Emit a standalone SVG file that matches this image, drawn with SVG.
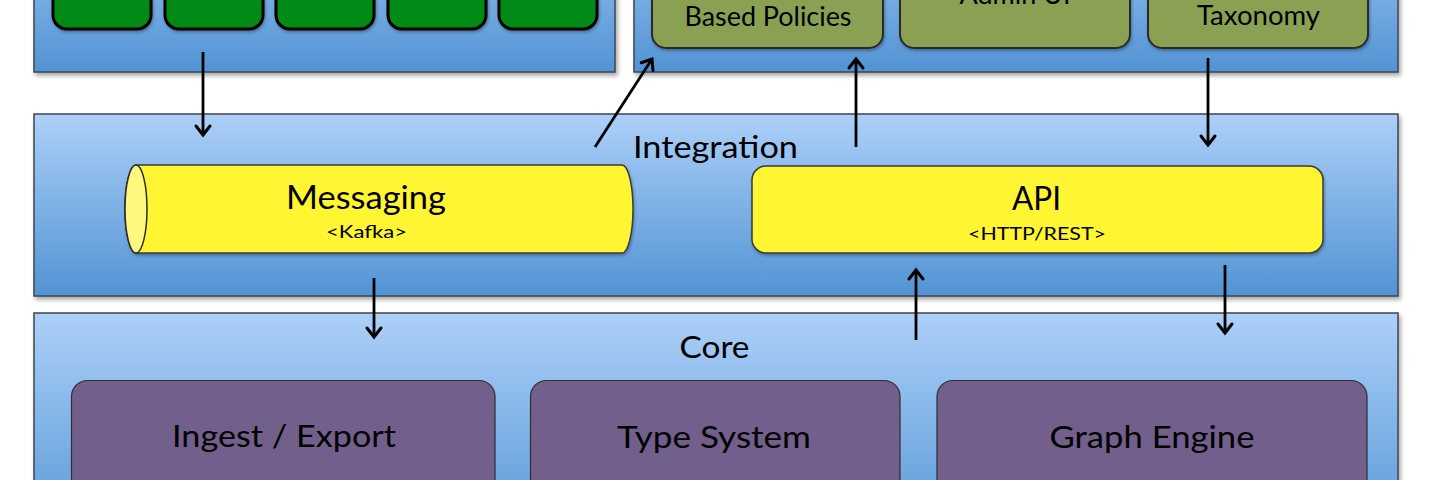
<svg xmlns="http://www.w3.org/2000/svg" width="1432" height="480" viewBox="0 0 1432 480">
  <defs>
    <linearGradient id="blueGrad" x1="0" y1="0" x2="0" y2="1">
      <stop offset="0" stop-color="#acd0f8"/>
      <stop offset="1" stop-color="#5293d4"/>
    </linearGradient>
    <filter id="shadow" x="-5%" y="-10%" width="110%" height="130%">
      <feDropShadow dx="2" dy="3" stdDeviation="2" flood-color="#000" flood-opacity="0.35"/>
    </filter>
    <filter id="shadowSm" x="-5%" y="-10%" width="110%" height="130%">
      <feDropShadow dx="1" dy="2" stdDeviation="1.5" flood-color="#000" flood-opacity="0.3"/>
    </filter>
    <marker id="arrow" markerUnits="userSpaceOnUse" markerWidth="20" markerHeight="20" viewBox="0 0 20 20" refX="12" refY="10" orient="auto">
      <path d="M3,3 L12,10 L3,17" fill="none" stroke="#000" stroke-width="3" stroke-linecap="round" stroke-linejoin="miter"/>
    </marker>
  </defs>
  <style>
    .container { fill: url(#blueGrad); stroke: #3c4650; stroke-width: 1.5; filter: url(#shadow); }
    .green { fill: #008a18; stroke: #000; stroke-width: 3; filter: url(#shadowSm); }
    .olive { fill: #8aa052; stroke: #2b2b2b; stroke-width: 2; filter: url(#shadowSm); }
    .yellow { fill: #fff533; stroke: #3a3a3a; stroke-width: 1.5; filter: url(#shadowSm); }
    .purple { fill: #735f8b; stroke: #2e2e2e; stroke-width: 1.2; }
    .conn { stroke: #000; stroke-width: 2.8; fill: none; marker-end: url(#arrow); }
    text { font-family: Lato, "Open Sans", "Liberation Sans", sans-serif; fill: #000; text-anchor: middle; }
    .big { font-size: 31px; }
    .mid { font-size: 32px; }
    .olv { font-size: 26px; }
    .small { font-size: 18px; }
  </style>

  <!-- Top-left container with green boxes -->
  <g id="sources">
    <rect class="container" x="34" y="-110" width="581" height="182"/>
    <rect id="src1" class="green" x="53" y="-60" width="98" height="89" rx="14"/>
    <rect id="src2" class="green" x="165" y="-60" width="98" height="89" rx="14"/>
    <rect id="src3" class="green" x="276" y="-60" width="98" height="89" rx="14"/>
    <rect id="src4" class="green" x="388" y="-60" width="98" height="89" rx="14"/>
    <rect id="src5" class="green" x="499" y="-60" width="98" height="89" rx="14"/>
  </g>

  <!-- Top-right container with olive boxes -->
  <g id="apps">
    <rect class="container" x="634" y="-110" width="764" height="182"/>
    <g id="policies">
      <rect class="olive" x="652" y="-60" width="231" height="108" rx="14"/>
      <text class="olv" x="768" y="26" textLength="167" lengthAdjust="spacingAndGlyphs">Based Policies</text>
    </g>
    <g id="adminui">
      <rect class="olive" x="900" y="-60" width="230" height="108" rx="14"/>
      <text class="olv" x="1015" y="4" textLength="111" lengthAdjust="spacingAndGlyphs">Admin UI</text>
    </g>
    <g id="taxonomy">
      <rect class="olive" x="1148" y="-60" width="220" height="108" rx="14"/>
      <text class="olv" x="1258.5" y="25" textLength="123" lengthAdjust="spacingAndGlyphs">Taxonomy</text>
    </g>
  </g>

  <!-- Integration -->
  <g id="integration">
    <rect class="container" x="34" y="114" width="1364" height="182"/>
    <text class="big" x="715.5" y="158" textLength="165" lengthAdjust="spacingAndGlyphs">Integration</text>
    <g id="messaging">
      <path class="yellow" d="M136,165 L622,165 A11,44 0 0 1 622,253 L136,253 A11,44 0 0 1 136,165 Z"/>
      <ellipse cx="136" cy="209" rx="11" ry="44" fill="#fff87e" stroke="#2a2a2a" stroke-width="1.5"/>
      <text class="mid" x="366" y="209" textLength="160" lengthAdjust="spacingAndGlyphs">Messaging</text>
      <text class="small" x="366.5" y="238" textLength="81" lengthAdjust="spacingAndGlyphs">&lt;Kafka&gt;</text>
    </g>
    <g id="api">
      <rect class="yellow" x="752" y="166" width="571" height="87" rx="14"/>
      <text class="mid" x="1036.5" y="210" textLength="49" lengthAdjust="spacingAndGlyphs">API</text>
      <text class="small" x="1037" y="240" textLength="138" lengthAdjust="spacingAndGlyphs">&lt;HTTP/REST&gt;</text>
    </g>
  </g>

  <!-- Core -->
  <g id="core">
    <rect class="container" x="34" y="313" width="1364" height="240"/>
    <text class="big" x="714.5" y="358" textLength="70" lengthAdjust="spacingAndGlyphs">Core</text>
    <g id="ingest">
      <rect class="purple" x="71.5" y="380.5" width="423.5" height="130" rx="16"/>
      <text class="big" x="284" y="447" textLength="224" lengthAdjust="spacingAndGlyphs">Ingest / Export</text>
    </g>
    <g id="typesystem">
      <rect class="purple" x="530.5" y="380.5" width="369.5" height="130" rx="16"/>
      <text class="big" x="714" y="448" textLength="194" lengthAdjust="spacingAndGlyphs">Type System</text>
    </g>
    <g id="graphengine">
      <rect class="purple" x="937" y="380.5" width="430" height="130" rx="16"/>
      <text class="big" x="1152" y="448" textLength="205" lengthAdjust="spacingAndGlyphs">Graph Engine</text>
    </g>
  </g>

  <!-- Connectors -->
  <g id="connectors">
    <line class="conn" x1="203" y1="52" x2="203" y2="135"/>
    <line class="conn" x1="595" y1="147" x2="652" y2="59"/>
    <line class="conn" x1="856" y1="147" x2="856" y2="59"/>
    <line class="conn" x1="1208" y1="58" x2="1208" y2="145"/>
    <line class="conn" x1="374" y1="278" x2="374" y2="337"/>
    <line class="conn" x1="916" y1="340" x2="916" y2="270"/>
    <line class="conn" x1="1225" y1="265" x2="1225" y2="333"/>
  </g>
</svg>
